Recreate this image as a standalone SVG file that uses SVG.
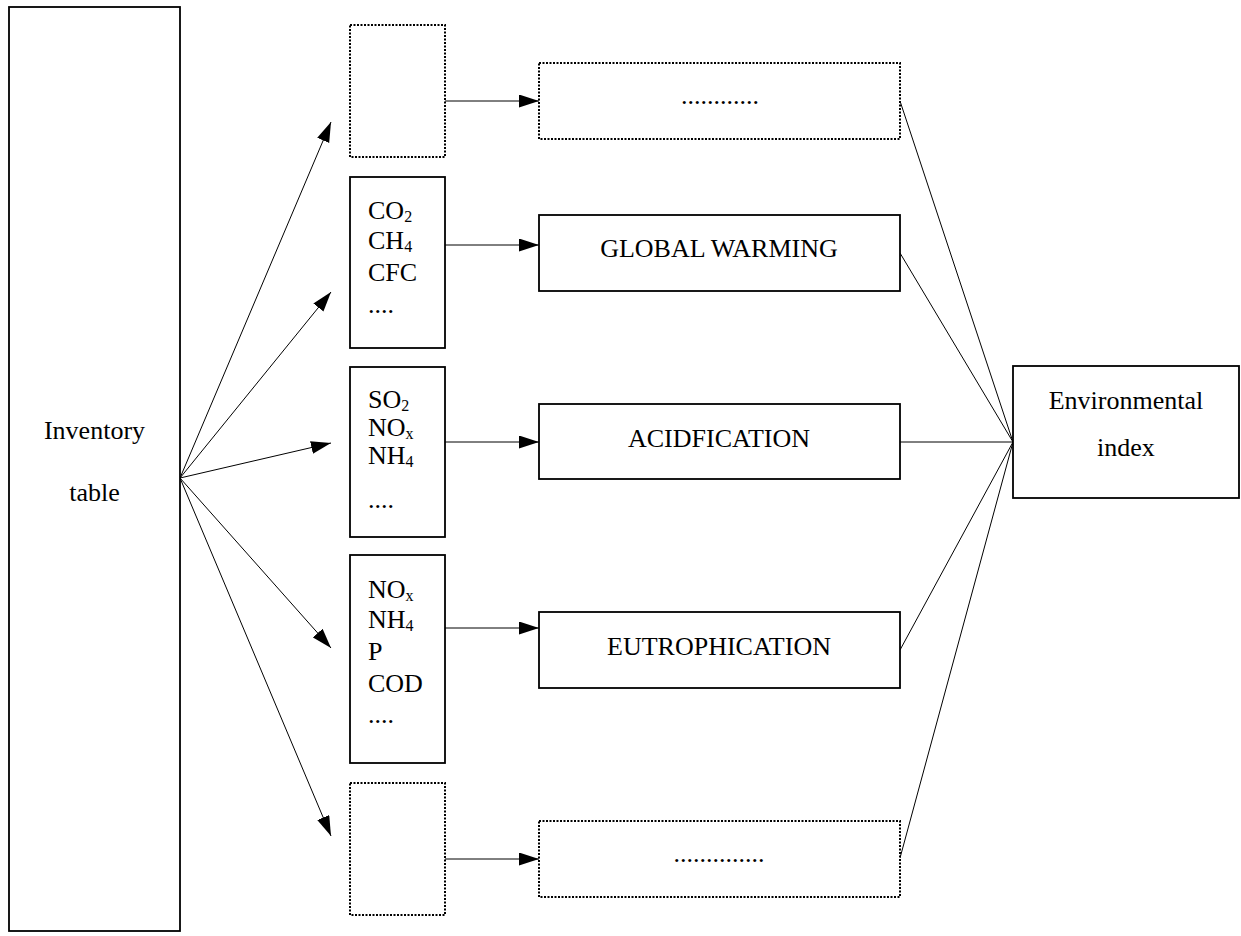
<svg xmlns="http://www.w3.org/2000/svg" width="1241" height="936" viewBox="0 0 1241 936">
<defs>
<marker id="ah" markerUnits="userSpaceOnUse" markerWidth="22" markerHeight="14" refX="20" refY="6.5" orient="auto">
<path d="M0,0 L20,6.5 L0,13 z" fill="#000"/>
</marker>
<style>
.box{fill:#fff;stroke:#000;stroke-width:1.8}
.dot{fill:#fff;stroke:#000;stroke-width:2;stroke-dasharray:2 1.5}
.t{font-family:"Liberation Serif","Times New Roman",serif;font-size:26px;fill:#000}
.m{text-anchor:middle}
.s{font-size:16px}
.arr{stroke:#000;stroke-width:1;fill:none;marker-end:url(#ah)}
.ln{stroke:#000;stroke-width:1;fill:none}
</style>
</defs>
<rect width="1241" height="936" fill="#fff"/>
<g id="connectors">
<line class="arr" x1="180" y1="478" x2="331" y2="122"/>
<line class="arr" x1="180" y1="478" x2="331" y2="292"/>
<line class="arr" x1="180" y1="478" x2="331" y2="443"/>
<line class="arr" x1="180" y1="478" x2="331" y2="648"/>
<line class="arr" x1="180" y1="478" x2="331" y2="836"/>
<line class="arr" x1="445" y1="101" x2="539" y2="101"/>
<line class="arr" x1="445" y1="245" x2="539" y2="245"/>
<line class="arr" x1="445" y1="442" x2="539" y2="442"/>
<line class="arr" x1="445" y1="628" x2="539" y2="628"/>
<line class="arr" x1="445" y1="859" x2="539" y2="859"/>
<line class="ln" x1="900" y1="101" x2="1013" y2="442"/>
<line class="ln" x1="900" y1="253" x2="1013" y2="442"/>
<line class="ln" x1="900" y1="442" x2="1013" y2="442"/>
<line class="ln" x1="900" y1="650" x2="1013" y2="442"/>
<line class="ln" x1="900" y1="858" x2="1013" y2="442"/>
</g>
<g id="inventory">
<rect class="box" x="9" y="7" width="171" height="924"/>
<text class="t m" x="94.5" y="439">Inventory</text>
<text class="t m" x="94.5" y="501">table</text>
</g>
<g id="src-top">
<rect class="dot" x="350" y="25" width="95" height="132"/>
</g>
<g id="src-gw">
<rect class="box" x="350" y="177" width="95" height="171"/>
<text class="t" x="368" y="219">CO<tspan class="s" dy="3">2</tspan></text>
<text class="t" x="368" y="249">CH<tspan class="s" dy="3">4</tspan></text>
<text class="t" x="368" y="281">CFC</text>
<text class="t" x="368" y="313">....</text>
</g>
<g id="src-ac">
<rect class="box" x="350" y="367" width="95" height="170"/>
<text class="t" x="368" y="408">SO<tspan class="s" dy="3">2</tspan></text>
<text class="t" x="368" y="436">NO<tspan class="s" dy="3">x</tspan></text>
<text class="t" x="368" y="464">NH<tspan class="s" dy="3">4</tspan></text>
<text class="t" x="368" y="508">....</text>
</g>
<g id="src-eu">
<rect class="box" x="350" y="555" width="95" height="208"/>
<text class="t" x="368" y="598">NO<tspan class="s" dy="3">x</tspan></text>
<text class="t" x="368" y="628">NH<tspan class="s" dy="3">4</tspan></text>
<text class="t" x="368" y="660">P</text>
<text class="t" x="368" y="692">COD</text>
<text class="t" x="368" y="723">....</text>
</g>
<g id="src-bottom">
<rect class="dot" x="350" y="783" width="95" height="132"/>
</g>
<g id="cat-top">
<rect class="dot" x="539" y="63" width="361" height="76"/>
<text class="t m" x="720" y="104">............</text>
</g>
<g id="cat-gw">
<rect class="box" x="539" y="215" width="361" height="76"/>
<text class="t m" x="719" y="257">GLOBAL WARMING</text>
</g>
<g id="cat-ac">
<rect class="box" x="539" y="404" width="361" height="75"/>
<text class="t m" x="719" y="447">ACIDFICATION</text>
</g>
<g id="cat-eu">
<rect class="box" x="539" y="612" width="361" height="76"/>
<text class="t m" x="719" y="655">EUTROPHICATION</text>
</g>
<g id="cat-bottom">
<rect class="dot" x="539" y="821" width="361" height="76"/>
<text class="t m" x="719" y="862">..............</text>
</g>
<g id="env-index">
<rect class="box" x="1013" y="366" width="226" height="132"/>
<text class="t m" x="1126" y="409">Environmental</text>
<text class="t m" x="1126" y="456">index</text>
</g>
</svg>
